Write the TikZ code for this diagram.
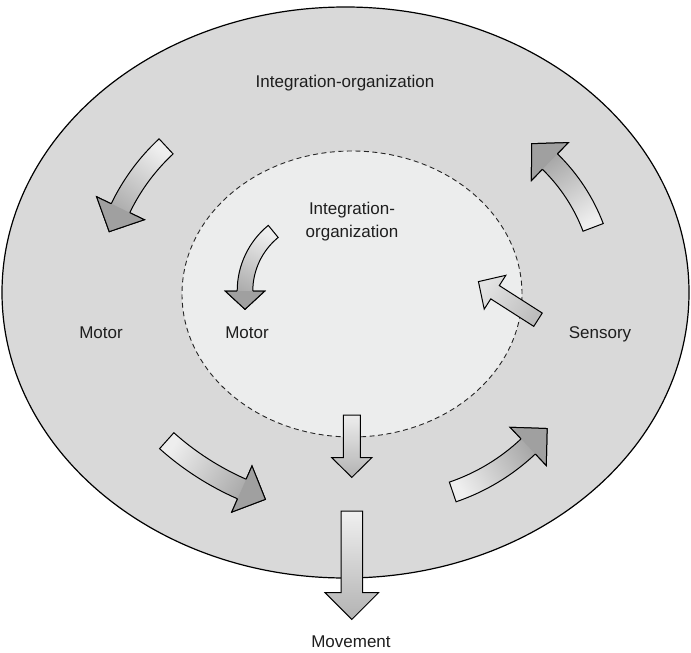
\documentclass[tikz,border=0pt]{standalone}
\usepackage{fontspec}
\setmainfont{Liberation Sans}
\usetikzlibrary{calc}

\definecolor{outerfill}{RGB}{217,217,217}
\definecolor{innerfill}{RGB}{236,237,237}
\definecolor{shaftlight}{RGB}{238,238,238}
\definecolor{shaftdark}{RGB}{160,160,160}
\definecolor{headgray}{RGB}{160,160,160}
\definecolor{inktext}{RGB}{30,30,30}

\tikzset{
  labeltext/.style={font=\fontsize{17}{23}\selectfont, text=inktext, inner sep=0pt, align=center},
  outline/.style={draw=black, line width=1pt, line join=miter},
}

% Curved block arrow whose centre line is a circular arc.
% #1 name, #2/#3 arc centre (x, y measured downwards), #4 radius,
% #5 tail angle, #6 angle where the head starts, #7 half shaft width,
% #8 half head width, #9 head length
\newcommand{\bentarrow}[9]{%
  \coordinate (#1-c) at (#2,-#3);
  \coordinate (#1-to) at ($(#1-c)+(#5:{#4+#7})$);
  \coordinate (#1-ho) at ($(#1-c)+(#6:{#4+#7})$);
  \coordinate (#1-hi) at ($(#1-c)+(#6:{#4-#7})$);
  \coordinate (#1-bo) at ($(#1-c)+(#6:{#4+#8})$);
  \coordinate (#1-bi) at ($(#1-c)+(#6:{#4-#8})$);
  \coordinate (#1-tip) at ($(#1-c)+(#6:#4)+({#6+90}:#9)$);
  \pgfmathsetmacro{\bentshade}{(#5+#6)/2-180}
  \shadedraw[outline, top color=shaftlight, bottom color=shaftdark, shading angle=\bentshade]
    (#1-to) arc[start angle=#5, end angle=#6, radius={#4+#7}]
    -- (#1-bo) -- (#1-tip) -- (#1-bi) -- (#1-hi)
    arc[start angle=#6, end angle=#5, radius={#4-#7}] -- cycle;
  \fill[headgray] (#1-bo) -- (#1-tip) -- (#1-bi) -- cycle;
  \draw[outline] (#1-ho) -- (#1-bo) -- (#1-tip) -- (#1-bi) -- (#1-hi);
}

% Straight block arrow: only its corner points are defined here.
% #1 name, #2/#3 tail centre, #4 direction, #5 shaft length,
% #6 half shaft width, #7 half head width, #8 head length
\newcommand{\blockarrow}[8]{%
  \coordinate (#1-t) at (#2,-#3);
  \coordinate (#1-tl) at ($(#1-t)+({#4+90}:#6)$);
  \coordinate (#1-tr) at ($(#1-t)+({#4-90}:#6)$);
  \coordinate (#1-b) at ($(#1-t)+(#4:#5)$);
  \coordinate (#1-hl) at ($(#1-b)+({#4+90}:#6)$);
  \coordinate (#1-hr) at ($(#1-b)+({#4-90}:#6)$);
  \coordinate (#1-bl) at ($(#1-b)+({#4+90}:#7)$);
  \coordinate (#1-br) at ($(#1-b)+({#4-90}:#7)$);
  \coordinate (#1-tip) at ($(#1-b)+(#4:#8)$);
}
\newcommand{\blockpath}[1]{(#1-tl) -- (#1-hl) -- (#1-bl) -- (#1-tip) -- (#1-br) -- (#1-hr) -- (#1-tr) -- cycle}

\begin{document}
\begin{tikzpicture}[x=1pt, y=1pt]
  \path[fill=white, use as bounding box] (0,0) rectangle (691,-653);

  % the two regions
  \coordinate (outerc) at (345.5,-292.5);
  \coordinate (innerc) at (352,-294);
  \filldraw[fill=outerfill, draw=black, line width=1.2pt]
    (outerc) ellipse[x radius=343.5, y radius=285.5];
  \filldraw[fill=innerfill, draw=black!85, line width=0.9pt, dash pattern=on 5pt off 3.5pt]
    (innerc) ellipse[x radius=170, y radius=143];

  % labels
  \node[labeltext, anchor=base] (outertitle) at (345,-87) {Integration-organization};
  \node[labeltext, anchor=north] (innertitle) at (352,-202) {Integration-\\organization};
  \node[labeltext, anchor=base] (motorout) at (101,-338) {Motor};
  \node[labeltext, anchor=base] (motorin) at (247,-338) {Motor};
  \node[labeltext, anchor=base] (sensory) at (600,-338) {Sensory};
  \node[labeltext, anchor=base] (movement) at (351,-647) {Movement};

  % cycle of curved arrows round the outer region
  \bentarrow{tl}{307}{298}{207}{132.9}{154.3}{10.3}{26.5}{26}
  \bentarrow{bl}{356}{229}{284}{-131.8}{-113.7}{10.7}{25.2}{25.7}
  \bentarrow{br}{386}{296}{207}{-71.2}{-46.6}{10.4}{26.3}{26}
  \bentarrow{tr}{423}{292}{182}{20.8}{45.8}{10.8}{26.4}{25.6}

  % inner motor arrow
  \bentarrow{im}{322}{291}{77}{129.3}{180}{7.8}{19.8}{18.3}

  % straight arrows
  \blockarrow{sens}{538}{319.7}{147.4}{51}{7.9}{20.1}{19.7}
  \shadedraw[outline, top color=black!26, bottom color=black!11, shading angle=-122.6] \blockpath{sens};

  \blockarrow{down}{351.8}{415}{-90}{42.7}{8.5}{20}{19.7}
  \shadedraw[outline, top color=black!7, bottom color=black!30] \blockpath{down};

  \blockarrow{move}{351.8}{511}{-90}{81.7}{10.8}{26.7}{26.7}
  \shadedraw[outline, top color=black!6, bottom color=black!30] \blockpath{move};
\end{tikzpicture}
\end{document}
